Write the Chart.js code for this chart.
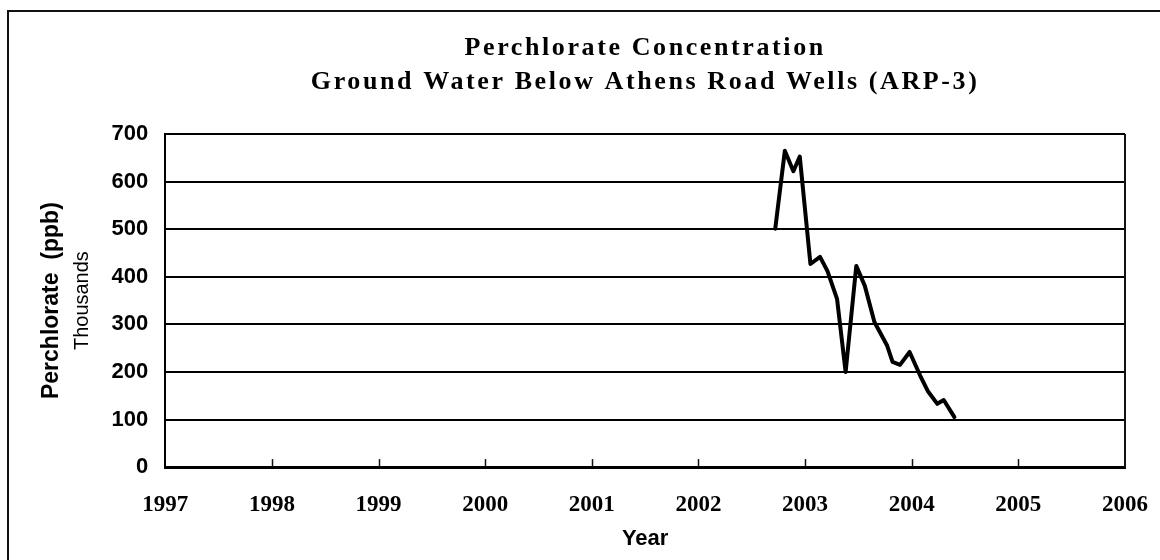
<!DOCTYPE html>
<html>
<head>
<meta charset="utf-8">
<title>Perchlorate Concentration - ARP-3</title>
<script src="https://cdn.jsdelivr.net/npm/chart.js@4.4.1/dist/chart.umd.min.js"></script>
<style>
  html, body { margin: 0; padding: 0; background: #fff; }
  #wrap { position: relative; width: 1160px; height: 560px; overflow: hidden; }
  #wrap canvas { position: absolute; left: 0; top: 0; }
  .frame {
    position: absolute; left: 7px; top: 10px; right: -10px; bottom: -10px;
    border-left: 2px solid #111; border-top: 2px solid #111;
    pointer-events: none;
  }
</style>
</head>
<body>
<div id="wrap">
  <canvas id="chart" width="1160" height="560"></canvas>
  <div class="frame"></div>
</div>
<script>
'use strict';

// ─────────────────────────────────────────────
// DATA
// ─────────────────────────────────────────────
const titleLines = ['Perchlorate Concentration', 'Ground Water Below Athens Road Wells (ARP-3)'];

// sample dates as decimal years
const sampleDates = [
  2002.72, 2002.81, 2002.89, 2002.95, 2003.05, 2003.14, 2003.21,
  2003.30, 2003.38, 2003.48, 2003.56, 2003.65, 2003.77, 2003.82,
  2003.89, 2003.98, 2004.08, 2004.15, 2004.24, 2004.30, 2004.40,
];
// perchlorate, thousands of ppb
const perchlorate = [
  501, 665, 622, 653, 427, 442, 412,
  353, 200, 423, 381, 305, 255, 221,
  215, 242, 192, 160, 133, 141, 105,
];

const yearMin = 1997;
const yearMax = 2006;
const yMin = 0;
const yMax = 700;
const yStep = 100;

const SANS = '"Liberation Sans", Arial, sans-serif';
const SERIF = '"Liberation Serif", "Times New Roman", serif';

// ─────────────────────────────────────────────
// PLUGINS
// ─────────────────────────────────────────────
// the scanned title is set with wide letter spacing
const titleSpacing = {
  id: 'titleSpacing',
  beforeDraw(chart) {
    const block = chart.titleBlock;
    if (!block || block._spaced) return;
    const draw = block.draw.bind(block);
    block.draw = (area) => {
      const ctx = chart.ctx;
      ctx.save();
      ctx.letterSpacing = '2.6px';
      draw(area);
      ctx.restore();
    };
    block._spaced = true;
  },
};

// right border of the plot + short inward year ticks
const plotFrame = {
  id: 'plotFrame',
  afterDraw(chart) {
    const { ctx, chartArea: a, scales } = chart;
    ctx.save();
    ctx.strokeStyle = '#111';
    ctx.lineWidth = 2;
    ctx.beginPath();
    ctx.moveTo(a.right, a.top);
    ctx.lineTo(a.right, a.bottom);
    ctx.stroke();

    ctx.lineWidth = 1.5;
    for (let yr = yearMin + 1; yr < yearMax; yr++) {
      const px = Math.round(scales.x.getPixelForValue(yr)) + 0.5;
      ctx.beginPath();
      ctx.moveTo(px, a.bottom);
      ctx.lineTo(px, a.bottom - 8);
      ctx.stroke();
    }
    ctx.restore();
  },
};

// ─────────────────────────────────────────────
// CHART
// ─────────────────────────────────────────────
const points = sampleDates.map((d, i) => ({ x: d, y: perchlorate[i] }));

new Chart(document.getElementById('chart'), {
  type: 'line',
  data: {
    datasets: [{
      label: 'ARP-3',
      data: points,
      borderColor: '#000',
      borderWidth: 4,
      tension: 0,
      pointRadius: 0,
      fill: false,
      borderJoinStyle: 'round',
      borderCapStyle: 'round',
    }],
  },
  options: {
    responsive: false,
    animation: false,
    layout: { padding: { top: 31, right: 0, bottom: 10, left: 36 } },
    plugins: {
      legend: { display: false },
      tooltip: { enabled: false },
      title: {
        display: true,
        fullSize: false,
        text: titleLines,
        color: '#000',
        font: { family: SERIF, size: 26, weight: 'bold', lineHeight: 1.31 },
        padding: { top: 0, bottom: 35 },
      },
    },
    scales: {
      x: {
        type: 'linear',
        min: yearMin,
        max: yearMax,
        grid: { display: false, drawTicks: false },
        border: { display: true, color: '#000', width: 3 },
        ticks: {
          stepSize: 1,
          padding: 12,
          color: '#000',
          maxRotation: 0,
          font: { family: SERIF, size: 23, weight: 'bold', lineHeight: 2.3 },
          callback: (v) => String(v),
        },
        title: {
          display: true,
          text: 'Year',
          color: '#000',
          font: { family: SANS, size: 22, weight: 'bold', lineHeight: 1.0 },
          padding: { top: -16, bottom: 0 },
        },
      },
      y: {
        type: 'linear',
        position: 'left',
        weight: 0,
        min: yMin,
        max: yMax,
        grid: { color: '#000', lineWidth: 2, drawTicks: false },
        border: { display: true, color: '#000', width: 2 },
        ticks: {
          stepSize: yStep,
          padding: 17,
          color: '#000',
          font: { family: SANS, size: 22, weight: 'bold' },
        },
        title: {
          display: true,
          text: 'Thousands',
          color: '#000',
          font: { family: SANS, size: 20 },
          padding: { top: 0, bottom: 0 },
        },
      },
      yLabel: {
        type: 'linear',
        position: 'left',
        weight: 1,
        min: yMin,
        max: yMax,
        grid: { display: false, drawTicks: false },
        border: { display: false },
        ticks: { display: false },
        title: {
          display: true,
          text: 'Perchlorate  (ppb)',
          color: '#000',
          font: { family: SANS, size: 23, weight: 'bold' },
          padding: { top: 2, bottom: 5 },
        },
      },
    },
  },
  plugins: [titleSpacing, plotFrame],
});
</script>
</body>
</html>
